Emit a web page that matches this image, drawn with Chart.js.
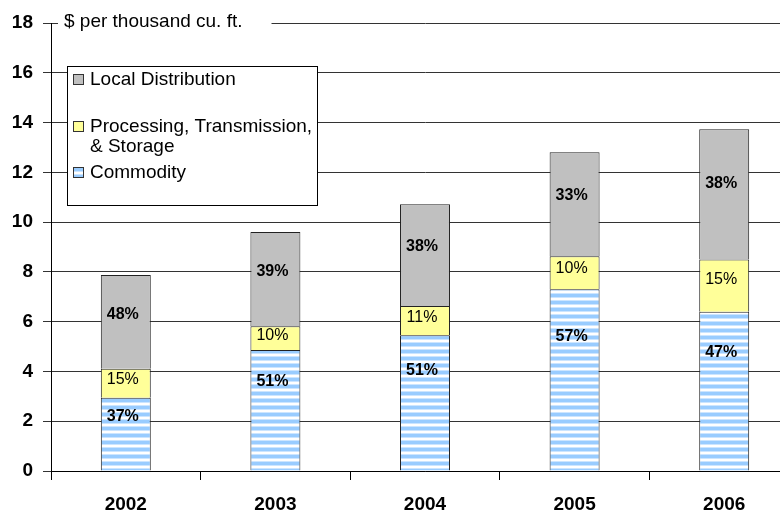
<!DOCTYPE html>
<html>
<head>
<meta charset="utf-8">
<script src="https://cdn.jsdelivr.net/npm/chart.js"></script>
<style>
  html, body { margin: 0; padding: 0; background: #fff; overflow: hidden; }
  #wrap { width: 800px; height: 512px; }
</style>
</head>
<body>
<div id="wrap"><canvas id="chart" width="800" height="512"></canvas></div>
<script>
// == Data ==
const years = ["2002", "2003", "2004", "2005", "2006"];
const commodity = [2.94, 4.86, 5.45, 7.30, 6.40];
const processing = [1.17, 0.96, 1.18, 1.33, 2.10];
const localDist = [3.76, 3.78, 4.09, 4.18, 5.23];
const commodityPct = ["37%", "51%", "51%", "57%", "47%"];
const processingPct = ["15%", "10%", "11%", "10%", "15%"];
const localPct = ["48%", "39%", "38%", "33%", "38%"];
const yMin = 0, yMax = 18, yStep = 2;
const unitTitle = "$ per thousand cu. ft.";

const FONT = "'Liberation Sans', Arial, sans-serif";

// == Striped fill for the commodity bars ==
function stripePattern() {
  const c = document.createElement("canvas");
  c.width = 8; c.height = 7;
  const g = c.getContext("2d");
  g.fillStyle = "#ffffff"; g.fillRect(0, 0, 8, 7);
  g.fillStyle = "#99ccff"; g.fillRect(0, 0, 8, 3);
  g.fillStyle = "#cce5ff"; g.fillRect(0, 3, 8, 1); g.fillRect(0, 6, 8, 1);
  return document.getElementById("chart").getContext("2d").createPattern(c, "repeat");
}
const stripes = stripePattern();

// == Percent labels on each segment ==
const segLabels = {
  id: "segLabels",
  afterDatasetsDraw(chart) {
    const ctx = chart.ctx;
    ctx.save();
    ctx.fillStyle = "#000";
    ctx.textAlign = "center";
    ctx.textBaseline = "middle";
    chart.data.datasets.forEach((ds, i) => {
      ctx.font = (ds.pctBold ? "bold " : "") + "16px " + FONT;
      chart.getDatasetMeta(i).data.forEach((bar, j) => {
        const y = bar.base + (bar.y - bar.base) * ds.pctPos;
        ctx.fillText(ds.pctLabels[j], bar.x - 3, y);
      });
    });
    ctx.restore();
  }
};

// == Unit title + boxed legend ==
const boxLegend = {
  id: "boxLegend",
  afterDraw(chart) {
    const ctx = chart.ctx;
    const area = chart.chartArea;
    const yTop = chart.scales.y.getPixelForValue(yMax);
    ctx.save();
    // unit title sitting on the top gridline
    ctx.font = "19px " + FONT;
    const tw = ctx.measureText(unitTitle).width;
    ctx.fillStyle = "#fff";
    ctx.fillRect(area.left + 7, yTop - 11, tw + 35, 22);
    ctx.fillStyle = "#000";
    ctx.textBaseline = "middle";
    ctx.fillText(unitTitle, area.left + 13, yTop - 1);

    // legend box
    const bx = area.left + 16, by = yTop + 43, bw = 250, bh = 139;
    ctx.fillStyle = "#fff";
    ctx.fillRect(bx, by, bw, bh);
    ctx.strokeStyle = "#000";
    ctx.lineWidth = 1;
    ctx.strokeRect(bx + 0.5, by + 0.5, bw, bh);

    const order = [2, 1, 0];
    const rowY = [by + 14, by + 61, by + 107];
    ctx.font = "19px " + FONT;
    order.forEach((di, k) => {
      const ds = chart.data.datasets[di];
      const y = rowY[k];
      ctx.fillStyle = ds.backgroundColor;
      ctx.fillRect(bx + 6, y - 6, 11, 11);
      ctx.strokeStyle = "#333";
      ctx.strokeRect(bx + 6.5, y - 5.5, 10, 10);
      ctx.fillStyle = "#000";
      ds.legendLines.forEach((t, n) => ctx.fillText(t, bx + 23, y + n * 20));
    });
    ctx.restore();
  }
};

// == Chart ==
new Chart(document.getElementById("chart"), {
  type: "bar",
  data: {
    labels: years,
    datasets: [
      {
        label: "Commodity",
        legendLines: ["Commodity"],
        data: commodity,
        backgroundColor: stripes,
        borderColor: "#222",
        borderWidth: 1,
        pctLabels: commodityPct,
        pctBold: true,
        pctPos: 0.74
      },
      {
        label: "Processing, Transmission, & Storage",
        legendLines: ["Processing, Transmission,", "& Storage"],
        data: processing,
        backgroundColor: "#ffff99",
        borderColor: "#222",
        borderWidth: 1,
        pctLabels: processingPct,
        pctBold: false,
        pctPos: 0.62
      },
      {
        label: "Local Distribution",
        legendLines: ["Local Distribution"],
        data: localDist,
        backgroundColor: "#c0c0c0",
        borderColor: "#222",
        borderWidth: 1,
        pctLabels: localPct,
        pctBold: true,
        pctPos: 0.58
      }
    ]
  },
  options: {
    responsive: false,
    animation: false,
    devicePixelRatio: 1,
    layout: { padding: { top: 23, right: 1, left: 0, bottom: 0 } },
    datasets: { bar: { barPercentage: 1, categoryPercentage: 0.334 } },
    plugins: {
      legend: { display: false },
      tooltip: { enabled: false }
    },
    scales: {
      x: {
        stacked: true,
        offset: true,
        grid: { offset: true, drawOnChartArea: false, drawTicks: true, tickLength: 9, color: "#000" },
        border: { color: "#000", width: 1 },
        ticks: { color: "#000", font: { family: FONT, size: 19, weight: "bold" }, padding: 13 },
        afterFit(s) { s.height = 41; }
      },
      y: {
        stacked: true,
        min: yMin,
        max: yMax,
        ticks: { stepSize: yStep, color: "#000", font: { family: FONT, size: 19, weight: "bold" }, padding: 10 },
        grid: { color: "#333", tickLength: 8 },
        border: { color: "#000", width: 1 },
        afterFit(s) { s.width = 51; }
      }
    }
  },
  plugins: [segLabels, boxLegend]
});
</script>
</body>
</html>
